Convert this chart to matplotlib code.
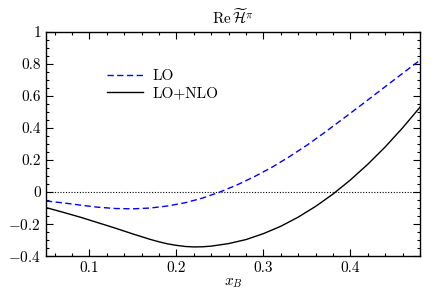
import matplotlib
matplotlib.use("Agg")
import matplotlib.pyplot as plt
from matplotlib.ticker import MultipleLocator

plt.rcParams['font.family'] = 'serif'
plt.rcParams['font.serif'] = ['cmr10']
plt.rcParams['mathtext.fontset'] = 'cm'
plt.rcParams['axes.formatter.use_mathtext'] = True

# Data
x_lo = [0.05, 0.07, 0.09, 0.11, 0.13, 0.15, 0.17, 0.19, 0.21, 0.23, 0.25, 0.27,
        0.29, 0.31, 0.33, 0.35, 0.37, 0.39, 0.41, 0.43, 0.45, 0.47, 0.48]
y_lo = [-0.056, -0.068, -0.082, -0.095, -0.103, -0.105, -0.100, -0.087, -0.067, -0.038,
        0.000, 0.045, 0.097, 0.155, 0.221, 0.292, 0.370, 0.451, 0.533, 0.616, 0.699, 0.782, 0.823]

x_nlo = [0.05, 0.07, 0.09, 0.11, 0.13, 0.15, 0.17, 0.18, 0.19, 0.20, 0.21, 0.22, 0.23,
         0.24, 0.26, 0.28, 0.30, 0.32, 0.34, 0.36, 0.38, 0.40, 0.42, 0.44, 0.46, 0.48]
y_nlo = [-0.097, -0.127, -0.158, -0.192, -0.226, -0.262, -0.296, -0.311, -0.324, -0.333,
         -0.340, -0.343, -0.342, -0.338, -0.322, -0.297, -0.260, -0.214, -0.157, -0.090,
         -0.013, 0.075, 0.173, 0.281, 0.400, 0.529]

xticks = [0.1, 0.2, 0.3, 0.4]
xticklabels = ['0.1', '0.2', '0.3', '0.4']
yticks = [-0.4, -0.2, 0, 0.2, 0.4, 0.6, 0.8, 1]
yticklabels = [r'$-0.4$', r'$-0.2$', '0', '0.2', '0.4', '0.6', '0.8', '1']

fig = plt.figure(figsize=(4.42, 2.90), dpi=100)
ax = fig.add_axes([0.104, 0.117, 0.846, 0.773])

ax.axhline(0, color='black', linestyle=(0, (1, 1.5)), linewidth=0.8)
ax.plot(x_lo, y_lo, color='blue', linestyle=(0, (4.5, 2.5)), linewidth=1.0, label='LO')
ax.plot(x_nlo, y_nlo, color='black', linestyle='-', linewidth=1.0, label='LO+NLO')

ax.set_xlim(0.05, 0.48)
ax.set_ylim(-0.4, 1)
ax.set_xticks(xticks)
ax.set_xticklabels(xticklabels)
ax.set_yticks(yticks)
ax.set_yticklabels(yticklabels)
ax.xaxis.set_minor_locator(MultipleLocator(0.02))
ax.yaxis.set_minor_locator(MultipleLocator(0.05))
ax.tick_params(which='both', direction='in', top=True, right=True, labelsize=11)
ax.tick_params(which='major', length=5, width=0.8)
ax.tick_params(which='minor', length=2.5, width=0.8)
for s in ax.spines.values():
    s.set_linewidth(1.0)

ax.set_xlabel(r'$x_B$', fontsize=11, labelpad=1)
ax.set_title(r'$\mathrm{Re}\,\widetilde{\mathcal{H}}^{\pi}$', fontsize=11, pad=6)

ax.legend(loc='upper left', bbox_to_anchor=(0.146, 0.86), frameon=False, fontsize=11,
          handlelength=2.35, handletextpad=0.65, labelspacing=0.2, borderaxespad=0)

fig.savefig('out.png', dpi=100)
